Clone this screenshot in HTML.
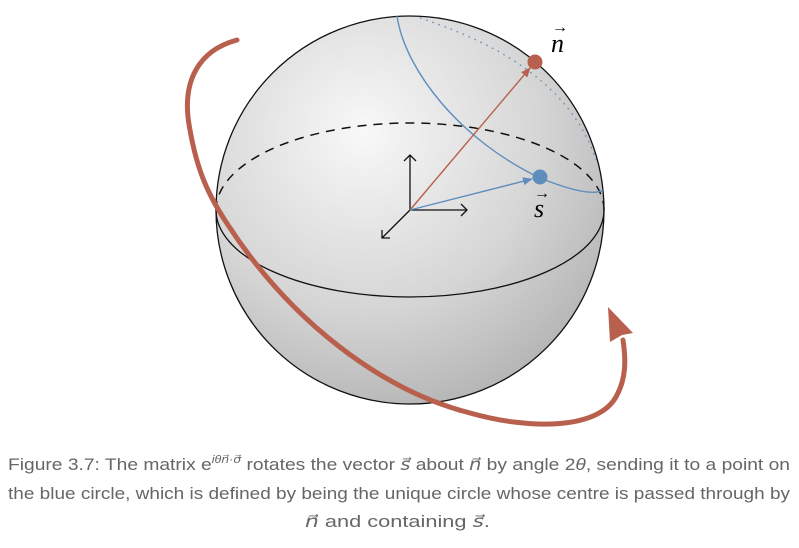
<!DOCTYPE html>
<html><head><meta charset="utf-8"><style>
html,body{margin:0;padding:0;background:#fff;width:799px;height:548px;overflow:hidden}
svg{display:block}
</style></head><body>
<svg width="799" height="548" viewBox="0 0 799 548">
<defs>
<radialGradient id="sg" cx="0.38" cy="0.3" r="0.75">
<stop offset="0" stop-color="#f8f8f8"/><stop offset="0.6" stop-color="#d6d6d6"/><stop offset="1" stop-color="#b4b4b4"/>
</radialGradient>
<marker id="ab" markerWidth="10" markerHeight="8" refX="9" refY="4" orient="auto" markerUnits="userSpaceOnUse"><path d="M0,0 L10,4 L0,8 Z" fill="#5f8dbe"/></marker>
<marker id="ar" markerWidth="10" markerHeight="8" refX="9" refY="4" orient="auto" markerUnits="userSpaceOnUse"><path d="M0,0 L10,4 L0,8 Z" fill="#b8604d"/></marker>
</defs>
<circle cx="410" cy="210" r="194" fill="url(#sg)" stroke="#111" stroke-width="1.3"/>
<path d="M216,210 A194,87 0 0 1 604,210" fill="none" stroke="#111" stroke-width="1.5" stroke-dasharray="9,7"/>
<path d="M216,210 A194,87 0 0 0 604,210" fill="none" stroke="#111" stroke-width="1.3"/>
<path d="M397,16 C405,70 460,140 540,178 C575,192 595,195 603,190" fill="none" stroke="#5f8dbe" stroke-width="1.4"/>
<path d="M420,18 Q565,65 596,160" fill="none" stroke="#5f8dbe" stroke-width="1.4" stroke-dasharray="1.5,5"/>
<g stroke="#111" stroke-width="1.3" fill="none">
<path d="M410,210 V155 M404,161 L410,155 L416,161"/>
<path d="M410,210 H467 M461,204 L467,210 L461,216"/>
<path d="M410,210 L382,238 M382,230 L382,238 L390,238"/>
</g>
<line x1="410" y1="210" x2="530" y2="68" stroke="#b8604d" stroke-width="1.4" marker-end="url(#ar)"/>
<line x1="410" y1="210" x2="532" y2="179" stroke="#5f8dbe" stroke-width="1.4" marker-end="url(#ab)"/>
<circle cx="535" cy="62" r="7.5" fill="#b8604d"/>
<circle cx="540" cy="177" r="7.5" fill="#5f8dbe"/>
<text x="551" y="52" font-family="Liberation Serif,serif" font-style="italic" font-size="26">n</text>
<text x="552" y="32" font-family="Liberation Serif,serif" font-size="16">→</text>
<text x="534" y="217" font-family="Liberation Serif,serif" font-style="italic" font-size="26">s</text>
<text x="534" y="198" font-family="Liberation Serif,serif" font-size="16">→</text>
<path d="M237,40 C200,50 180,80 190,130 C197,170 208,195 228,225 C290,320 380,390 470,413 C530,430 600,430 617,395 C626,378 626,360 623,340" fill="none" stroke="#b8604d" stroke-width="5" stroke-linecap="round"/>
<path d="M608,307 L633,333 L622,335 L610,342 Z" fill="#b8604d"/>
<g font-family="Liberation Sans,sans-serif" font-size="17" fill="#666">
<text x="8" y="470" textLength="782" lengthAdjust="spacingAndGlyphs">Figure 3.7: The matrix e<tspan font-size="11" dy="-7" font-style="italic">iθn⃗·σ⃗</tspan><tspan dy="7"> rotates the vector </tspan><tspan font-style="italic">s⃗</tspan> about <tspan font-style="italic">n⃗</tspan> by angle 2<tspan font-style="italic">θ</tspan>, sending it to a point on</text>
<text x="8" y="499" textLength="782" lengthAdjust="spacingAndGlyphs">the blue circle, which is defined by being the unique circle whose centre is passed through by</text>
<text x="305" y="527" textLength="185" lengthAdjust="spacingAndGlyphs"><tspan font-style="italic">n⃗</tspan> and containing <tspan font-style="italic">s⃗</tspan>.</text>
</g>
</svg>
</body></html>
